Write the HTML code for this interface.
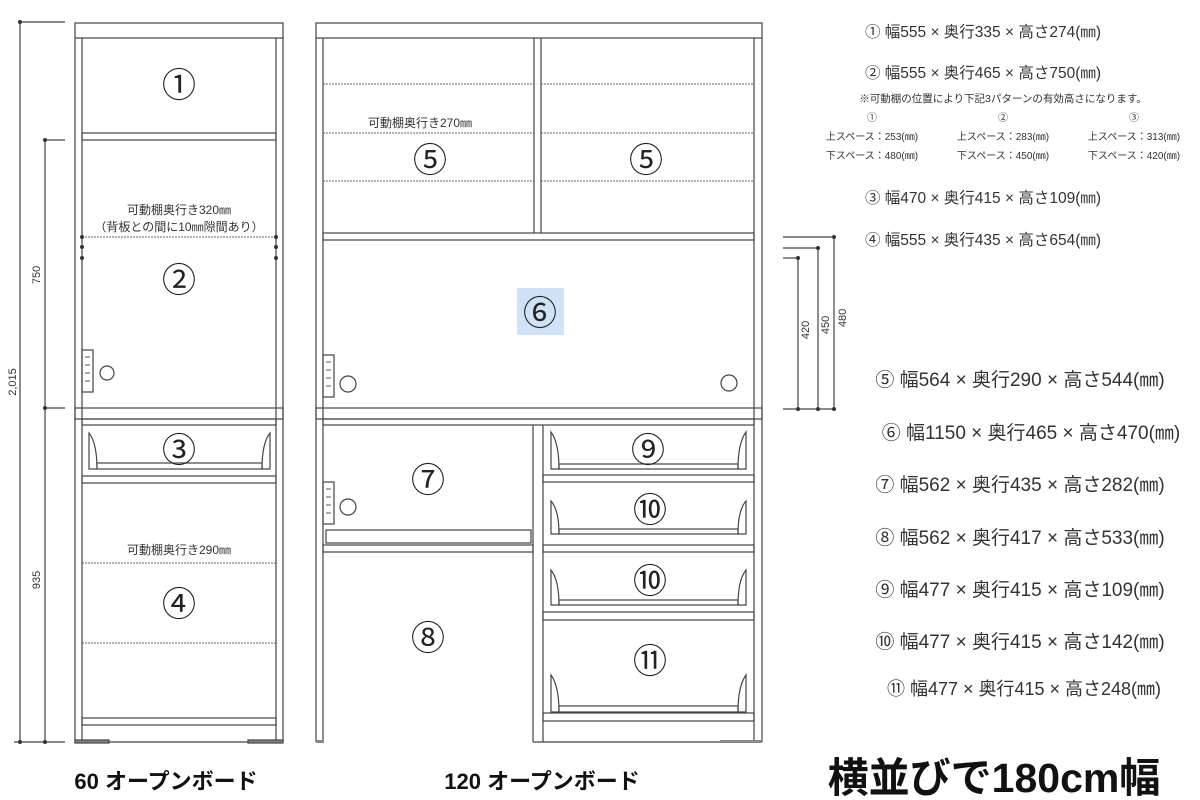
<!DOCTYPE html>
<html><head><meta charset="utf-8"><style>
html,body{margin:0;padding:0;background:#fff;}
svg{display:block;}
text{font-family:"Liberation Sans","Noto Sans CJK JP",sans-serif;}
</style></head><body>
<svg width="1200" height="800" viewBox="0 0 1200 800" xmlns="http://www.w3.org/2000/svg">
<g fill="none" stroke="#444" stroke-width="1.2">
<line x1="20" y1="22" x2="20" y2="742"/>
<line x1="20" y1="22" x2="65" y2="22"/>
<line x1="45" y1="140" x2="45" y2="742"/>
<line x1="45" y1="140" x2="65" y2="140"/>
<line x1="45" y1="408" x2="65" y2="408"/>
<line x1="14" y1="742" x2="65" y2="742"/>

<rect x="75" y="23" width="208" height="15"/>
<line x1="75" y1="38" x2="75" y2="742"/>
<line x1="82" y1="38" x2="82" y2="742"/>
<line x1="276" y1="38" x2="276" y2="742"/>
<line x1="283" y1="38" x2="283" y2="742"/>
<rect x="82" y="133" width="194" height="7"/>
<rect x="75" y="408" width="208" height="11"/>
<rect x="82" y="419" width="194" height="6"/>
<rect x="82" y="476" width="194" height="7"/>
<rect x="82" y="718" width="194" height="7"/>
<line x1="75" y1="742" x2="283" y2="742"/>
<rect x="75" y="740" width="34" height="3" fill="#888"/>
<rect x="248" y="740" width="35" height="3" fill="#888"/>
<path d="M89 433 L89 469 L97 469 Q97 443 89 433 Z"/>
<path d="M270 433 L270 469 L262 469 Q262 443 270 433 Z"/>
<rect x="97" y="463" width="165" height="6"/>
<rect x="82" y="350" width="11" height="42"/>
<circle cx="107" cy="373" r="7"/>
</g>
<g stroke="#666" stroke-width="1" stroke-dasharray="2,1">
<line x1="82" y1="237" x2="276" y2="237"/>
<line x1="82" y1="563" x2="276" y2="563"/>
<line x1="82" y1="643" x2="276" y2="643"/>
</g>
<g fill="#333">
<circle cx="82" cy="237" r="2"/><circle cx="82" cy="247" r="2"/><circle cx="82" cy="258" r="2"/>
<circle cx="276" cy="237" r="2"/><circle cx="276" cy="247" r="2"/><circle cx="276" cy="258" r="2"/>
<circle cx="20" cy="22" r="2"/><circle cx="45" cy="140" r="2"/><circle cx="45" cy="408" r="2"/><circle cx="20" cy="742" r="2"/><circle cx="45" cy="742" r="2"/>
</g>
<g stroke="#555" stroke-width="1">
<line x1="85" y1="357" x2="90" y2="357"/><line x1="85" y1="365" x2="90" y2="365"/><line x1="85" y1="373" x2="90" y2="373"/><line x1="85" y1="381" x2="90" y2="381"/>
</g>
<g fill="#333" font-size="11" text-anchor="middle">
<text transform="translate(40,275) rotate(-90)">750</text>
<text transform="translate(16,382) rotate(-90)">2,015</text>
<text transform="translate(40,580) rotate(-90)">935</text>
<text x="179" y="214" font-size="12">可動棚奥行き320㎜</text>
<text x="179" y="231" font-size="12">（背板との間に10㎜隙間あり）</text>
<text x="179" y="554" font-size="12">可動棚奥行き290㎜</text>
<text x="420" y="127" font-size="12">可動棚奥行き270㎜</text>
</g>

<g fill="none" stroke="#444" stroke-width="1.2">
<rect x="316" y="23" width="446" height="15"/>
<line x1="316" y1="38" x2="316" y2="742"/>
<line x1="323" y1="38" x2="323" y2="742"/>
<line x1="754" y1="38" x2="754" y2="742"/>
<line x1="762" y1="38" x2="762" y2="742"/>
<line x1="534" y1="38" x2="534" y2="233"/>
<line x1="541" y1="38" x2="541" y2="233"/>
<rect x="323" y="233" width="431" height="7"/>
<rect x="316" y="408" width="446" height="11"/>
<rect x="323" y="419" width="431" height="6"/>
<line x1="533" y1="425" x2="533" y2="742"/>
<line x1="543" y1="425" x2="543" y2="742"/>
<rect x="326" y="530" width="205" height="13"/>
<rect x="323" y="545" width="210" height="7"/>
<line x1="316" y1="742" x2="323" y2="742"/>
<line x1="533" y1="742" x2="762" y2="742"/>
<rect x="543" y="475" width="211" height="7"/>
<rect x="543" y="545" width="211" height="7"/>
<rect x="543" y="612" width="211" height="8"/>
<rect x="543" y="713" width="211" height="8"/>
<path d="M551 432 L551 469 L559 469 Q559 443 551 432 Z"/><path d="M746 432 L746 469 L738 469 Q738 443 746 432 Z"/><rect x="559" y="464" width="179" height="5"/>
<path d="M551 501 L551 534 L559 534 Q559 510 551 501 Z"/><path d="M746 501 L746 534 L738 534 Q738 510 746 501 Z"/><rect x="559" y="529" width="179" height="5"/>
<path d="M551 570 L551 605 L559 605 Q559 580 551 570 Z"/><path d="M746 570 L746 605 L738 605 Q738 580 746 570 Z"/><rect x="559" y="600" width="179" height="5"/>
<path d="M551 675 L551 712 L559 712 Q559 686 551 675 Z"/><path d="M746 675 L746 712 L738 712 Q738 686 746 675 Z"/><rect x="559" y="706" width="179" height="6"/>
<rect x="323" y="355" width="11" height="42"/>
<circle cx="348" cy="384" r="8"/>
<circle cx="729" cy="383" r="8"/>
<rect x="323" y="482" width="11" height="42"/>
<circle cx="348" cy="507" r="8"/>
<line x1="783" y1="237" x2="834" y2="237"/><line x1="834" y1="237" x2="834" y2="409"/>
<line x1="783" y1="248" x2="818" y2="248"/><line x1="818" y1="248" x2="818" y2="409"/>
<line x1="783" y1="258" x2="798" y2="258"/><line x1="798" y1="258" x2="798" y2="409"/>
<line x1="783" y1="409" x2="836" y2="409"/>
</g>
<rect x="316" y="740" width="8" height="3" fill="#888"/>
<rect x="720" y="740" width="42" height="3" fill="#888"/>
<g stroke="#666" stroke-width="1" stroke-dasharray="2,1">
<line x1="323" y1="84" x2="534" y2="84"/><line x1="541" y1="84" x2="754" y2="84"/>
<line x1="323" y1="133" x2="534" y2="133"/><line x1="541" y1="133" x2="754" y2="133"/>
<line x1="323" y1="181" x2="534" y2="181"/><line x1="541" y1="181" x2="754" y2="181"/>
</g>
<g stroke="#555" stroke-width="1">
<line x1="326" y1="362" x2="331" y2="362"/><line x1="326" y1="370" x2="331" y2="370"/><line x1="326" y1="378" x2="331" y2="378"/><line x1="326" y1="386" x2="331" y2="386"/>
<line x1="326" y1="489" x2="331" y2="489"/><line x1="326" y1="497" x2="331" y2="497"/><line x1="326" y1="505" x2="331" y2="505"/><line x1="326" y1="513" x2="331" y2="513"/>
</g>
<g fill="#333">
<circle cx="834" cy="237" r="2"/><circle cx="818" cy="248" r="2"/><circle cx="798" cy="258" r="2"/>
<circle cx="834" cy="409" r="2"/><circle cx="818" cy="409" r="2"/><circle cx="798" cy="409" r="2"/>
</g>
<g fill="#333" font-size="11" text-anchor="middle">
<text transform="translate(809,330) rotate(-90)">420</text>
<text transform="translate(829,325) rotate(-90)">450</text>
<text transform="translate(846,318) rotate(-90)">480</text>
</g>
<rect x="517" y="288" width="47" height="47" fill="#cfe2f7"/>

<g fill="#222" font-size="34" text-anchor="middle">
<text x="179" y="97">①</text>
<text x="179" y="292">②</text>
<text x="179" y="462">③</text>
<text x="179" y="616">④</text>
<text x="430" y="172">⑤</text>
<text x="646" y="172">⑤</text>
<text x="540" y="325">⑥</text>
<text x="428" y="492">⑦</text>
<text x="428" y="650">⑧</text>
<text x="648" y="462">⑨</text>
<text x="650" y="522">⑩</text>
<text x="650" y="593">⑩</text>
<text x="650" y="673">⑪</text>
</g>

<g fill="#333" text-anchor="middle">
<text x="983" y="37" font-size="15.5">① 幅555 × 奥行335 × 高さ274(㎜)</text>
<text x="983" y="78" font-size="15.5">② 幅555 × 奥行465 × 高さ750(㎜)</text>
<text x="1003" y="102" font-size="10.5">※可動棚の位置により下記3パターンの有効高さになります。</text>
<g font-size="10">
<text x="872" y="121">①</text><text x="1003" y="121">②</text><text x="1134" y="121">③</text>
<text x="872" y="140">上スペース：253(㎜)</text><text x="1003" y="140">上スペース：283(㎜)</text><text x="1134" y="140">上スペース：313(㎜)</text>
<text x="872" y="159">下スペース：480(㎜)</text><text x="1003" y="159">下スペース：450(㎜)</text><text x="1134" y="159">下スペース：420(㎜)</text>
</g>
<text x="983" y="203" font-size="15.5">③ 幅470 × 奥行415 × 高さ109(㎜)</text>
<text x="983" y="245" font-size="15.5">④ 幅555 × 奥行435 × 高さ654(㎜)</text>
<g font-size="19">
<text x="1020" y="386">⑤ 幅564 × 奥行290 × 高さ544(㎜)</text>
<text x="1031" y="439">⑥ 幅1150 × 奥行465 × 高さ470(㎜)</text>
<text x="1020" y="491">⑦ 幅562 × 奥行435 × 高さ282(㎜)</text>
<text x="1020" y="544">⑧ 幅562 × 奥行417 × 高さ533(㎜)</text>
<text x="1020" y="596">⑨ 幅477 × 奥行415 × 高さ109(㎜)</text>
<text x="1020" y="648">⑩ 幅477 × 奥行415 × 高さ142(㎜)</text>
<text x="1024" y="695" font-size="18">⑪ 幅477 × 奥行415 × 高さ248(㎜)</text>
</g>
</g>

<g fill="#111" font-weight="bold" text-anchor="middle">
<text x="166" y="789" font-size="22">60 オープンボード</text>
<text x="542" y="789" font-size="22">120 オープンボード</text>
<text x="994" y="792" font-size="41">横並びで180cm幅</text>
</g>
</svg>
</body></html>
